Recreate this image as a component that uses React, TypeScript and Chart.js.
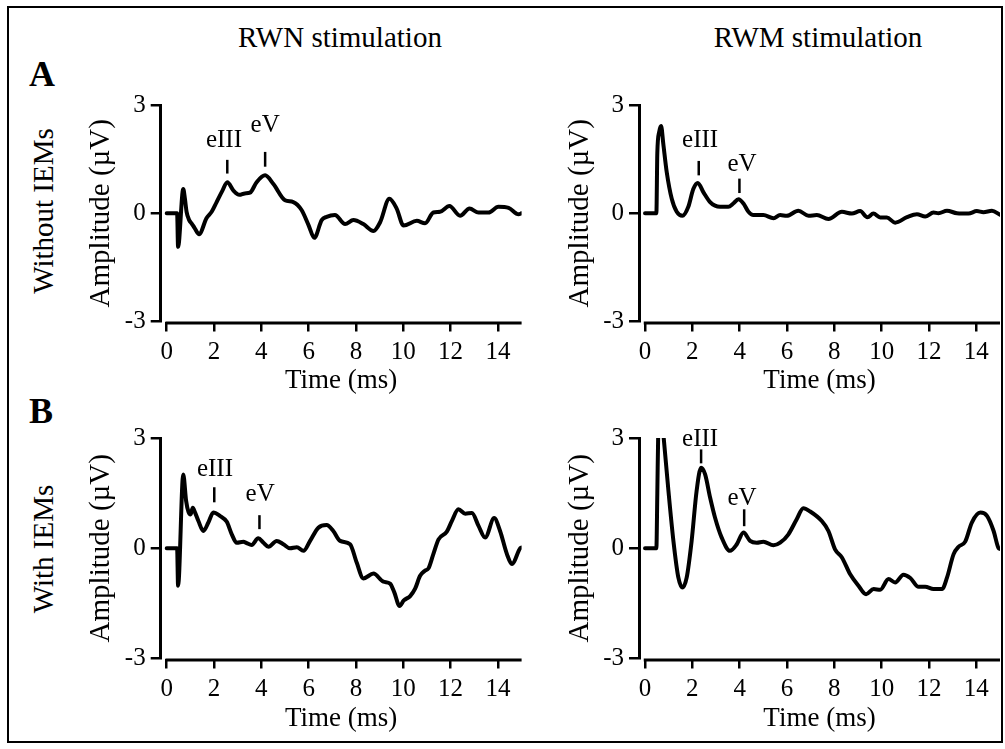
import React, { useEffect, useRef } from 'react';
import { Chart, registerables } from 'chart.js';

Chart.register(...registerables);

// ---------- data ----------
const X_TICKS = [0, 2, 4, 6, 8, 10, 12, 14];
const Y_TICKS = [-3, 0, 3];
const X_MIN = -0.254;
const X_MAX = 15;
const Y_MIN = -3;
const Y_MAX = 3;

const COLUMN_TITLES = ['RWN stimulation', 'RWM stimulation'];
const ROW_LABELS = ['Without IEMs', 'With IEMs'];
const PANEL_LETTERS = ['A', 'B'];
const X_TITLE = 'Time (ms)';
const Y_TITLE = 'Amplitude (\u00B5V)';

// A: RWN stimulation, without IEMs
const rwnWithoutTime = [0, 0.44, 0.48, 0.70, 0.77, 0.84, 0.95, 1.05, 1.18, 1.37, 1.68, 1.90, 2.11, 2.35, 2.56, 2.82, 3.07, 3.30, 3.52, 3.80, 4.16, 4.51, 5.00, 5.35, 5.70, 5.99, 6.24, 6.55, 6.76, 7.11, 7.54, 7.89, 8.31, 8.74, 9.02, 9.41, 9.72, 10.01, 10.57, 10.92, 11.27, 11.55, 11.95, 12.40, 12.80, 13.18, 13.60, 14.02, 14.45, 14.87, 15.0];
const rwnWithoutAmp = [0, 0, -0.93, 0.67, 0.40, 0.04, -0.19, -0.28, -0.41, -0.58, -0.14, 0.04, 0.31, 0.62, 0.86, 0.63, 0.51, 0.55, 0.57, 0.86, 1.05, 0.81, 0.36, 0.31, 0.09, -0.32, -0.68, -0.19, -0.10, -0.05, -0.30, -0.19, -0.30, -0.49, -0.25, 0.40, 0.13, -0.34, -0.21, -0.28, 0.02, 0.04, 0.20, -0.07, 0.13, 0.02, 0.02, 0.18, 0.15, -0.03, 0.0];

// A: RWM stimulation, without IEMs
const rwmWithoutTime = [0, 0.48, 0.52, 0.60, 0.68, 0.77, 0.92, 1.13, 1.34, 1.58, 1.83, 2.04, 2.23, 2.47, 2.75, 2.96, 3.17, 3.52, 3.73, 3.95, 4.16, 4.37, 4.58, 5.00, 5.43, 5.71, 5.99, 6.48, 6.91, 7.26, 7.75, 8.32, 8.74, 9.09, 9.40, 9.65, 9.94, 10.22, 10.57, 11.07, 11.49, 11.84, 12.19, 12.40, 12.76, 13.18, 13.67, 14.02, 14.30, 14.66, 15.0];
const rwmWithoutAmp = [0, 0, 1.67, 2.26, 2.42, 1.94, 1.13, 0.40, 0.04, -0.07, 0.18, 0.67, 0.84, 0.58, 0.31, 0.21, 0.18, 0.18, 0.27, 0.39, 0.27, 0.04, -0.05, -0.05, -0.14, -0.05, -0.07, 0.07, -0.07, -0.05, -0.16, 0.04, -0.01, 0.06, -0.11, -0.01, -0.12, -0.12, -0.26, -0.11, -0.03, -0.09, 0.02, 0.0, 0.07, 0.0, -0.01, 0.06, 0.03, 0.07, -0.04];

// B: RWN stimulation, with IEMs
const rwnWithTime = [0, 0.44, 0.48, 0.70, 0.82, 0.92, 1.01, 1.10, 1.20, 1.34, 1.55, 1.76, 1.97, 2.25, 2.54, 2.75, 2.96, 3.24, 3.38, 3.59, 3.87, 4.09, 4.30, 4.65, 4.93, 5.21, 5.50, 5.78, 6.06, 6.41, 6.76, 7.04, 7.33, 7.75, 8.03, 8.31, 8.74, 9.16, 9.44, 9.62, 9.84, 10.02, 10.29, 10.50, 10.71, 10.90, 11.07, 11.27, 11.49, 11.84, 12.05, 12.33, 12.62, 12.90, 13.18, 13.46, 13.84, 14.09, 14.38, 14.59, 14.94, 15.0];
const rwnWithAmp = [0, 0, -1.02, 2.01, 1.29, 0.99, 0.92, 1.10, 0.97, 0.74, 0.47, 0.70, 0.97, 0.88, 0.72, 0.38, 0.15, 0.18, 0.14, 0.09, 0.27, 0.15, 0.04, 0.20, 0.11, 0.0, 0.03, -0.07, 0.20, 0.56, 0.63, 0.47, 0.20, 0.11, -0.39, -0.82, -0.69, -0.91, -0.96, -1.20, -1.57, -1.42, -1.30, -1.10, -0.75, -0.62, -0.54, -0.16, 0.24, 0.45, 0.74, 1.06, 0.94, 0.96, 0.61, 0.29, 0.82, 0.47, -0.16, -0.43, 0.0, 0.02];

// B: RWM stimulation, with IEMs
const rwmWithTime = [0, 0.48, 0.52, 0.56, 0.65, 0.74, 0.79, 0.99, 1.20, 1.41, 1.58, 1.76, 1.97, 2.18, 2.37, 2.54, 2.75, 2.96, 3.24, 3.59, 3.88, 4.16, 4.44, 4.72, 5.00, 5.43, 5.71, 6.06, 6.41, 6.69, 6.98, 7.47, 7.75, 8.03, 8.32, 8.67, 9.02, 9.34, 9.66, 9.94, 10.29, 10.57, 10.92, 11.21, 11.56, 11.84, 12.19, 12.55, 12.76, 13.04, 13.25, 13.53, 13.81, 14.17, 14.45, 14.73, 14.94, 15.0];
const rwmWithAmp = [0, 0, 1.5, 3.2, 3.9, 3.4, 3.0, 1.56, 0.20, -0.80, -1.07, -0.80, 0.20, 1.56, 2.19, 2.01, 1.38, 0.83, 0.29, -0.07, 0.11, 0.43, 0.20, 0.15, 0.18, 0.08, 0.15, 0.38, 0.79, 1.09, 1.0, 0.74, 0.47, -0.03, -0.25, -0.71, -1.02, -1.25, -1.11, -1.13, -0.84, -0.93, -0.72, -0.81, -1.05, -1.05, -1.11, -1.11, -0.80, -0.16, 0.04, 0.18, 0.70, 0.97, 0.88, 0.47, 0.0, -0.02];

// peak markers (time of mark, mark low/high amplitude, label centre time/amplitude)
const rwnWithoutPeaks = [
  { label: 'eIII', x: 2.56, y0: 1.10, y1: 1.48, lx: 2.42, ly: 2.02 },
  { label: 'eV', x: 4.16, y0: 1.29, y1: 1.70, lx: 4.16, ly: 2.43 },
];
const rwmWithoutPeaks = [
  { label: 'eIII', x: 2.27, y0: 1.05, y1: 1.45, lx: 2.33, ly: 2.02 },
  { label: 'eV', x: 3.99, y0: 0.56, y1: 0.96, lx: 4.10, ly: 1.35 },
];
const rwnWithPeaks = [
  { label: 'eIII', x: 2.01, y0: 1.25, y1: 1.66, lx: 2.04, ly: 2.15 },
  { label: 'eV', x: 3.92, y0: 0.52, y1: 0.90, lx: 3.95, ly: 1.47 },
];
const rwmWithPeaks = [
  { label: 'eIII', x: 2.37, y0: 2.31, y1: 2.69, lx: 2.33, ly: 2.96 },
  { label: 'eV', x: 4.19, y0: 0.60, y1: 1.06, lx: 4.10, ly: 1.36 },
];

// ---------- layout ----------
const SERIF = '"Liberation Serif", "Times New Roman", serif';
const COLS = [
  { left: 50, width: 480, areaLeft: 160.7, areaRight: 521.6, titleX: 340 },
  { left: 530, width: 475, areaLeft: 639, areaRight: 1000, titleX: 818 },
];
const ROWS = [
  { top: 85, height: 315, areaTop: 100.5, areaBottom: 321.5, xTitleY: 381, labelY: 211, letterY: 74 },
  { top: 415, height: 322, areaTop: 438, areaBottom: 658.5, xTitleY: 718.5, labelY: 549, letterY: 410.5 },
];
const Y_TITLE_CENTER_OFFSET = 59; // distance from y axis to its title centre
const TICK_FONT = 25;
const X_TITLE_FONT = 27;
const Y_TITLE_FONT = 29;

const markPlugin = {
  id: 'marks',
  afterDatasetsDraw(chart: any, _args: any, opts: any) {
    const { ctx, chartArea } = chart;
    const xs = chart.scales.x;
    const ys = chart.scales.y;
    ctx.save();
    ctx.strokeStyle = '#000';
    ctx.lineWidth = 3;
    ctx.lineCap = 'butt';
    const yb = chartArea.bottom + 1.5;
    ctx.beginPath();
    ctx.moveTo(xs.getPixelForValue(0) - 1.25, yb);
    ctx.lineTo(xs.getPixelForValue(X_MAX), yb);
    ctx.stroke();
    ctx.lineWidth = 2.5;
    ctx.fillStyle = '#000';
    ctx.font = `25px ${SERIF}`;
    ctx.textAlign = 'center';
    ctx.textBaseline = 'middle';
    for (const m of (opts && opts.items) || []) {
      const px = xs.getPixelForValue(m.x);
      ctx.beginPath();
      ctx.moveTo(px, ys.getPixelForValue(m.y0));
      ctx.lineTo(px, ys.getPixelForValue(m.y1));
      ctx.stroke();
      ctx.fillText(m.label, xs.getPixelForValue(m.lx), ys.getPixelForValue(m.ly));
    }
    ctx.restore();
  },
};

type PanelProps = { col: number; row: number; time: number[]; amp: number[]; peaks: any[] };

function Panel({ col, row, time, amp, peaks }: PanelProps) {
  const ref = useRef<HTMLCanvasElement | null>(null);
  const c = COLS[col];
  const r = ROWS[row];
  useEffect(() => {
    if (!ref.current) return;
    const yWidth = c.areaLeft - c.left;
    const xHeight = r.xTitleY + (X_TITLE_FONT * 1.2) / 2 - r.areaBottom;
    const yTitlePad = c.areaLeft - Y_TITLE_CENTER_OFFSET - c.left - (Y_TITLE_FONT * 1.2) / 2;
    const chart = new Chart(ref.current, {
      type: 'line',
      data: {
        datasets: [
          {
            data: time.map((t, i) => ({ x: t, y: amp[i] })),
            borderColor: '#000',
            borderWidth: 4,
            pointRadius: 0,
            fill: false,
            cubicInterpolationMode: 'monotone',
            borderJoinStyle: 'round',
            borderCapStyle: 'round',
          },
        ],
      },
      options: {
        responsive: false,
        animation: false,
        events: [],
        layout: {
          padding: {
            left: 0,
            top: r.areaTop - r.top,
            right: c.left + c.width - c.areaRight,
            bottom: r.top + r.height - r.areaBottom - xHeight,
          },
        },
        plugins: {
          legend: { display: false },
          tooltip: { enabled: false },
          title: { display: false },
          marks: { items: peaks },
        } as any,
        scales: {
          x: {
            type: 'linear',
            min: X_MIN,
            max: X_MAX,
            afterBuildTicks: (s: any) => {
              s.ticks = X_TICKS.map((v) => ({ value: v }));
            },
            afterFit: (s: any) => {
              s.height = xHeight;
            },
            ticks: {
              color: '#000',
              font: { family: SERIF, size: TICK_FONT },
              padding: 5.5,
              maxRotation: 0,
              autoSkip: false,
              callback: (v: any) => String(v),
            },
            grid: {
              display: true,
              drawOnChartArea: false,
              drawTicks: true,
              tickLength: 10,
              tickWidth: 2.5,
              tickColor: '#000',
              color: '#000',
              lineWidth: 2.5,
            },
            border: { display: false },
            title: {
              display: true,
              text: X_TITLE,
              color: '#000',
              font: { family: SERIF, size: X_TITLE_FONT },
              padding: { top: 0, bottom: 0 },
            },
          },
          y: {
            type: 'linear',
            min: Y_MIN,
            max: Y_MAX,
            afterBuildTicks: (s: any) => {
              s.ticks = Y_TICKS.map((v) => ({ value: v }));
            },
            afterFit: (s: any) => {
              s.width = yWidth;
            },
            ticks: {
              color: '#000',
              font: { family: SERIF, size: TICK_FONT },
              padding: 5,
              autoSkip: false,
              callback: (v: any) => String(v),
            },
            grid: {
              display: true,
              drawOnChartArea: false,
              drawTicks: true,
              tickLength: 10,
              tickWidth: 2.5,
              tickColor: '#000',
              color: '#000',
              lineWidth: 2.5,
            },
            border: { display: true, color: '#000', width: 3 },
            title: {
              display: true,
              text: Y_TITLE,
              color: '#000',
              font: { family: SERIF, size: Y_TITLE_FONT },
              padding: { top: yTitlePad, bottom: 0 },
            },
          },
        },
      } as any,
      plugins: [markPlugin as any],
    });
    return () => chart.destroy();
  }, []);
  return (
    <canvas
      ref={ref}
      width={c.width}
      height={r.height}
      style={{ position: 'absolute', left: c.left, top: r.top, width: c.width, height: r.height }}
    />
  );
}

function Label({ x, y, size, text, rotate, bold }: { x: number; y: number; size: number; text: string; rotate?: boolean; bold?: boolean }) {
  return (
    <div
      style={{
        position: 'absolute',
        left: x,
        top: y,
        transform: `translate(-50%, -50%)${rotate ? ' rotate(-90deg)' : ''}`,
        fontFamily: SERIF,
        fontSize: size,
        lineHeight: 1,
        whiteSpace: 'nowrap',
        fontWeight: bold ? 'bold' : 'normal',
        color: '#000',
      }}
    >
      {text}
    </div>
  );
}

export default function App() {
  return (
    <div style={{ position: 'absolute', left: 0, top: 0, width: 1005, height: 749, background: '#fff', overflow: 'hidden' }}>
      <div
        style={{
          position: 'absolute',
          left: 7,
          top: 6,
          width: 996,
          height: 737,
          border: '2px solid #000',
          boxSizing: 'border-box',
        }}
      />
      <Label x={COLS[0].titleX} y={36.7} size={29} text={COLUMN_TITLES[0]} />
      <Label x={COLS[1].titleX} y={36.7} size={29} text={COLUMN_TITLES[1]} />
      <Label x={42} y={ROWS[0].letterY} size={36} text={PANEL_LETTERS[0]} bold />
      <Label x={41} y={ROWS[1].letterY} size={36} text={PANEL_LETTERS[1]} bold />
      <Label x={43} y={ROWS[0].labelY} size={29} text={ROW_LABELS[0]} rotate />
      <Label x={43} y={ROWS[1].labelY} size={29} text={ROW_LABELS[1]} rotate />
      <Panel col={0} row={0} time={rwnWithoutTime} amp={rwnWithoutAmp} peaks={rwnWithoutPeaks} />
      <Panel col={1} row={0} time={rwmWithoutTime} amp={rwmWithoutAmp} peaks={rwmWithoutPeaks} />
      <Panel col={0} row={1} time={rwnWithTime} amp={rwnWithAmp} peaks={rwnWithPeaks} />
      <Panel col={1} row={1} time={rwmWithTime} amp={rwmWithAmp} peaks={rwmWithPeaks} />
    </div>
  );
}
